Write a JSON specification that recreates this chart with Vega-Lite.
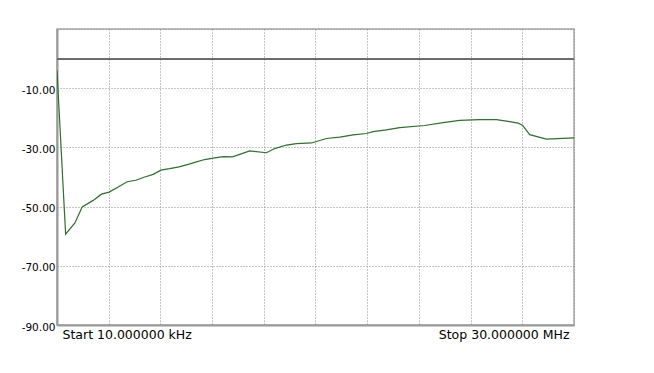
{
  "$schema": "https://vega.github.io/schema/vega-lite/v6.json",
  "width": 517,
  "height": 296,
  "autosize": {"type": "none"},
  "padding": {"left": 57, "top": 29, "right": 80, "bottom": 48},
  "background": "white",
  "config": {
    "font": "DejaVu Sans",
    "view": {"stroke": "#a8a8a8", "strokeWidth": 1.5},
    "axis": {
      "grid": true,
      "gridColor": "#8a8a8a",
      "gridDash": [1, 2],
      "gridWidth": 1,
      "ticks": false,
      "domainColor": "#999999",
      "domainWidth": 2,
      "labelColor": "#000000",
      "labelFont": "DejaVu Sans",
      "title": null
    }
  },
  "data": {
    "values": [
      {"f": 0.01, "v": -4.0},
      {"f": 0.51, "v": -59.3},
      {"f": 1.05, "v": -55.5},
      {"f": 1.47, "v": -50.1},
      {"f": 2.11, "v": -47.9},
      {"f": 2.59, "v": -45.8},
      {"f": 3.03, "v": -45.1},
      {"f": 3.56, "v": -43.4},
      {"f": 4.08, "v": -41.6},
      {"f": 4.58, "v": -41.1},
      {"f": 5.10, "v": -40.0},
      {"f": 5.59, "v": -39.1},
      {"f": 6.03, "v": -37.7},
      {"f": 6.55, "v": -37.2},
      {"f": 7.09, "v": -36.6},
      {"f": 7.58, "v": -35.8},
      {"f": 8.10, "v": -34.9},
      {"f": 8.58, "v": -34.1},
      {"f": 9.07, "v": -33.6},
      {"f": 9.65, "v": -33.1},
      {"f": 10.19, "v": -33.2},
      {"f": 11.19, "v": -31.2},
      {"f": 12.16, "v": -31.8},
      {"f": 12.64, "v": -30.4},
      {"f": 13.32, "v": -29.2},
      {"f": 13.90, "v": -28.7},
      {"f": 14.77, "v": -28.5},
      {"f": 15.64, "v": -27.0},
      {"f": 16.41, "v": -26.5},
      {"f": 17.19, "v": -25.8},
      {"f": 17.96, "v": -25.3},
      {"f": 18.35, "v": -24.7},
      {"f": 19.12, "v": -24.1},
      {"f": 19.89, "v": -23.3},
      {"f": 21.34, "v": -22.6},
      {"f": 22.41, "v": -21.6},
      {"f": 23.37, "v": -20.9},
      {"f": 24.53, "v": -20.6},
      {"f": 25.50, "v": -20.6},
      {"f": 26.18, "v": -21.2},
      {"f": 26.76, "v": -21.8},
      {"f": 27.01, "v": -22.5},
      {"f": 27.43, "v": -25.7},
      {"f": 28.40, "v": -27.2},
      {"f": 30.0, "v": -26.8}
    ]
  },
  "layer": [
    {
      "mark": {"type": "rule", "color": "#707070", "strokeWidth": 1},
      "encoding": {"y": {"datum": 0, "type": "quantitative", "scale": {"domain": [-90, 10]}}}
    },
    {
      "mark": {"type": "line", "color": "#2f6e2f", "strokeWidth": 1.2, "clip": true},
      "encoding": {
        "x": {
          "field": "f",
          "type": "quantitative",
          "scale": {"domain": [0.01, 30], "nice": false, "zero": false},
          "axis": {
            "values": [0.01, 3, 6, 9, 12, 15, 18, 21, 24, 27, 30],
            "labelExpr": "datum.value < 1 ? 'Start 10.000000 kHz' : (datum.value > 29 ? 'Stop 30.000000 MHz' : '')",
            "labelFlush": true,
            "labelFlushOffset": -5,
            "labelFontSize": 12.5,
            "labelPadding": 3,
            "labelOverlap": false
          }
        },
        "y": {
          "field": "v",
          "type": "quantitative",
          "scale": {"domain": [-90, 10], "nice": false, "zero": false},
          "axis": {
            "values": [-90, -80, -70, -60, -50, -40, -30, -20, -10, 0, 10],
            "labelExpr": "indexof([-10, -30, -50, -70, -90], datum.value) >= 0 ? '-' + format(abs(datum.value), '.2f') : ''",
            "labelFontSize": 10.5,
            "labelPadding": 2,
            "labelOffset": 2,
            "labelOverlap": false,
            "labelFlush": false
          }
        }
      }
    }
  ]
}
